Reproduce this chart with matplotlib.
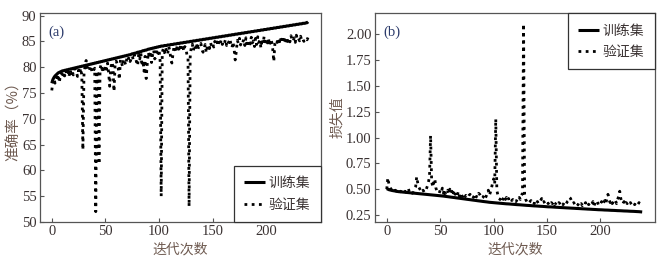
import matplotlib
matplotlib.use("Agg")
import matplotlib.pyplot as plt

plt.rcParams['font.family'] = ['Liberation Serif', 'Noto Sans CJK SC']

train_acc = [
    76.9, 77.6, 78.0, 78.3, 78.5, 78.7, 78.9, 79.0, 79.1, 79.2,
    79.3, 79.3, 79.4, 79.4, 79.5, 79.5, 79.6, 79.6, 79.7, 79.7,
    79.8, 79.8, 79.9, 79.9, 80.0, 80.0, 80.1, 80.1, 80.2, 80.2,
    80.3, 80.3, 80.4, 80.4, 80.5, 80.5, 80.6, 80.6, 80.7, 80.7,
    80.8, 80.8, 80.9, 80.9, 81.0, 81.0, 81.1, 81.1, 81.2, 81.2,
    81.3, 81.3, 81.4, 81.4, 81.5, 81.5, 81.6, 81.6, 81.7, 81.7,
    81.8, 81.8, 81.9, 81.9, 82.0, 82.0, 82.1, 82.1, 82.2, 82.2,
    82.3, 82.3, 82.4, 82.4, 82.5, 82.6, 82.6, 82.7, 82.7, 82.8,
    82.9, 82.9, 83.0, 83.0, 83.1, 83.2, 83.2, 83.3, 83.3, 83.4,
    83.5, 83.5, 83.6, 83.6, 83.7, 83.7, 83.8, 83.8, 83.9, 83.9,
    84.0, 84.0, 84.1, 84.1, 84.1, 84.2, 84.2, 84.2, 84.3, 84.3,
    84.3, 84.4, 84.4, 84.4, 84.5, 84.5, 84.5, 84.6, 84.6, 84.6,
    84.7, 84.7, 84.7, 84.8, 84.8, 84.8, 84.9, 84.9, 84.9, 85.0,
    85.0, 85.0, 85.1, 85.1, 85.1, 85.2, 85.2, 85.2, 85.3, 85.3,
    85.3, 85.4, 85.4, 85.4, 85.5, 85.5, 85.5, 85.6, 85.6, 85.6,
    85.7, 85.7, 85.7, 85.8, 85.8, 85.8, 85.9, 85.9, 85.9, 86.0,
    86.0, 86.0, 86.1, 86.1, 86.1, 86.2, 86.2, 86.2, 86.3, 86.3,
    86.3, 86.4, 86.4, 86.4, 86.5, 86.5, 86.5, 86.6, 86.6, 86.6,
    86.7, 86.7, 86.7, 86.8, 86.8, 86.8, 86.9, 86.9, 86.9, 87.0,
    87.0, 87.0, 87.1, 87.1, 87.1, 87.2, 87.2, 87.2, 87.3, 87.3,
    87.3, 87.4, 87.4, 87.4, 87.5, 87.5, 87.5, 87.6, 87.6, 87.6,
    87.7, 87.7, 87.7, 87.8, 87.8, 87.8, 87.9, 87.9, 87.9, 88.0,
    88.0, 88.0, 88.1, 88.1, 88.1, 88.2, 88.2, 88.2, 88.3, 88.3,
    88.3, 88.4, 88.4, 88.4, 88.5, 88.5, 88.5, 88.6, 88.6, 88.8,
]

val_acc = [
    75.5, 77.2, 77.8, 76.9, 78.2, 77.5, 78.6, 77.0, 78.4, 78.9,
    78.0, 79.1, 78.3, 79.4, 78.6, 79.2, 78.1, 79.5, 78.8, 79.3,
    78.5, 79.6, 80.4, 79.0, 78.2, 79.4, 78.7, 79.8, 78.3, 64.0,
    78.5, 80.2, 81.3, 80.0, 79.5, 79.2, 80.3, 79.6, 78.9, 79.4,
    79.8, 52.0, 79.3, 78.6, 61.2, 79.7, 80.6, 79.5, 80.1, 79.0,
    80.4, 79.6, 80.8, 78.9, 76.3, 79.8, 81.0, 80.2, 75.3, 80.5,
    81.2, 80.6, 79.7, 77.6, 81.5, 80.9, 80.1, 81.6, 81.0, 80.4,
    81.8, 81.3, 82.0, 81.1, 81.7, 82.2, 81.4, 82.4, 81.9, 81.0,
    80.3, 82.5, 81.6, 82.8, 80.2, 81.3, 79.2, 82.1, 77.8, 80.6,
    82.9, 81.8, 83.1, 80.9, 82.4, 83.3, 81.6, 82.0, 83.5, 82.7,
    83.4, 81.2, 55.0, 82.9, 83.6, 82.8, 83.9, 83.2, 82.5, 84.0,
    83.3, 81.5, 80.8, 82.6, 84.1, 83.6, 82.9, 84.3, 83.8, 83.0,
    84.2, 83.5, 84.4, 83.1, 84.0, 83.7, 82.4, 82.0, 53.0, 81.9,
    83.8, 84.5, 83.2, 84.1, 83.6, 84.7, 83.3, 84.0, 83.9, 84.6,
    83.5, 82.9, 83.7, 84.4, 82.8, 83.8, 84.2, 83.6, 84.8, 84.0,
    84.5, 83.9, 85.0, 84.3, 84.9, 84.1, 85.2, 84.6, 85.3, 84.4,
    85.1, 84.7, 85.4, 84.2, 85.0, 84.8, 85.5, 84.5, 83.8, 84.9,
    83.4, 81.4, 83.0, 85.2, 84.6, 85.6, 84.3, 85.1, 84.8, 85.4,
    84.2, 85.7, 83.9, 84.9, 85.3, 84.5, 85.8, 84.7, 85.1, 84.0,
    85.6, 84.4, 85.9, 84.8, 85.2, 83.7, 85.5, 84.6, 86.0, 84.9,
    85.3, 84.7, 85.7, 84.2, 85.4, 84.9, 83.5, 81.1, 84.6, 85.2,
    84.8, 85.6, 84.3, 85.9, 85.1, 84.7, 86.0, 85.3, 84.5, 85.8,
    85.0, 85.5, 84.9, 86.1, 85.4, 85.0, 85.7, 84.8, 86.2, 85.3,
    85.6, 85.1, 86.0, 85.2, 85.5, 85.0, 85.4, 85.6, 85.3, 85.8,
]

train_loss = [
    0.505, 0.500, 0.495, 0.492, 0.489, 0.487, 0.485, 0.483, 0.481, 0.479,
    0.477, 0.476, 0.475, 0.474, 0.473, 0.472, 0.471, 0.470, 0.469, 0.468,
    0.467, 0.466, 0.465, 0.464, 0.463, 0.462, 0.461, 0.460, 0.459, 0.458,
    0.457, 0.456, 0.455, 0.454, 0.453, 0.452, 0.451, 0.450, 0.449, 0.448,
    0.447, 0.446, 0.445, 0.444, 0.443, 0.442, 0.441, 0.440, 0.439, 0.438,
    0.437, 0.436, 0.434, 0.433, 0.431, 0.430, 0.429, 0.427, 0.426, 0.424,
    0.423, 0.422, 0.420, 0.419, 0.417, 0.416, 0.415, 0.413, 0.412, 0.410,
    0.409, 0.408, 0.406, 0.405, 0.403, 0.402, 0.401, 0.399, 0.398, 0.396,
    0.395, 0.394, 0.392, 0.391, 0.389, 0.388, 0.387, 0.385, 0.384, 0.382,
    0.381, 0.380, 0.378, 0.377, 0.376, 0.374, 0.373, 0.372, 0.370, 0.369,
    0.368, 0.367, 0.366, 0.366, 0.365, 0.364, 0.363, 0.362, 0.362, 0.361,
    0.360, 0.359, 0.358, 0.358, 0.357, 0.356, 0.355, 0.354, 0.354, 0.353,
    0.352, 0.351, 0.350, 0.350, 0.349, 0.348, 0.347, 0.346, 0.346, 0.345,
    0.344, 0.343, 0.343, 0.342, 0.341, 0.341, 0.340, 0.339, 0.338, 0.338,
    0.337, 0.336, 0.336, 0.335, 0.334, 0.334, 0.333, 0.332, 0.331, 0.331,
    0.330, 0.329, 0.329, 0.328, 0.328, 0.327, 0.326, 0.326, 0.325, 0.325,
    0.324, 0.323, 0.323, 0.322, 0.322, 0.321, 0.320, 0.320, 0.319, 0.319,
    0.318, 0.317, 0.317, 0.316, 0.316, 0.315, 0.314, 0.314, 0.313, 0.313,
    0.312, 0.311, 0.311, 0.310, 0.310, 0.309, 0.308, 0.308, 0.307, 0.307,
    0.306, 0.305, 0.305, 0.304, 0.304, 0.303, 0.302, 0.302, 0.301, 0.301,
    0.300, 0.300, 0.299, 0.299, 0.298, 0.298, 0.297, 0.297, 0.296, 0.296,
    0.295, 0.295, 0.294, 0.294, 0.293, 0.293, 0.292, 0.292, 0.291, 0.291,
    0.290, 0.290, 0.289, 0.289, 0.288, 0.288, 0.287, 0.287, 0.286, 0.286,
    0.285, 0.285, 0.284, 0.284, 0.283, 0.283, 0.282, 0.281, 0.280, 0.279,
]

val_loss = [
    0.50, 0.61, 0.55, 0.52, 0.50, 0.49, 0.50, 0.48, 0.49, 0.48,
    0.49, 0.48, 0.47, 0.48, 0.47, 0.48, 0.47, 0.48, 0.47, 0.49,
    0.51, 0.48, 0.47, 0.48, 0.46, 0.47, 0.49, 0.52, 0.62, 0.56,
    0.52, 0.50, 0.48, 0.47, 0.49, 0.47, 0.48, 0.50, 0.53, 0.57,
    0.62, 1.02, 0.58, 0.52, 0.56, 0.60, 0.51, 0.48, 0.47, 0.46,
    0.49, 0.47, 0.51, 0.46, 0.50, 0.45, 0.47, 0.49, 0.45, 0.50,
    0.46, 0.48, 0.44, 0.49, 0.45, 0.47, 0.44, 0.48, 0.43, 0.46,
    0.44, 0.43, 0.45, 0.42, 0.44, 0.43, 0.42, 0.44, 0.45, 0.42,
    0.43, 0.42, 0.44, 0.41, 0.43, 0.42, 0.46, 0.45, 0.43, 0.41,
    0.42, 0.44, 0.41, 0.43, 0.46, 0.49, 0.44, 0.47, 0.51, 0.56,
    0.60, 0.55, 1.18, 0.49, 0.44, 0.41, 0.40, 0.42, 0.39, 0.41,
    0.43, 0.40, 0.42, 0.39, 0.41, 0.38, 0.40, 0.39, 0.40, 0.38,
    0.39, 0.38, 0.40, 0.39, 0.42, 0.40, 0.44, 0.46, 2.10, 0.45,
    0.40, 0.38, 0.39, 0.37, 0.38, 0.39, 0.37, 0.38, 0.36, 0.39,
    0.37, 0.38, 0.36, 0.37, 0.39, 0.41, 0.37, 0.38, 0.36, 0.37,
    0.38, 0.36, 0.37, 0.35, 0.37, 0.36, 0.38, 0.35, 0.36, 0.37,
    0.35, 0.37, 0.36, 0.34, 0.36, 0.35, 0.37, 0.35, 0.36, 0.38,
    0.39, 0.42, 0.41, 0.38, 0.36, 0.37, 0.35, 0.36, 0.34, 0.35,
    0.37, 0.35, 0.36, 0.34, 0.36, 0.35, 0.37, 0.34, 0.36, 0.35,
    0.37, 0.35, 0.36, 0.38, 0.34, 0.37, 0.36, 0.38, 0.35, 0.37,
    0.36, 0.38, 0.35, 0.37, 0.39, 0.36, 0.41, 0.45, 0.40, 0.37,
    0.39, 0.36, 0.38, 0.37, 0.39, 0.36, 0.40, 0.43, 0.48, 0.41,
    0.37, 0.36, 0.38, 0.35, 0.37, 0.36, 0.38, 0.36, 0.37, 0.35,
    0.37, 0.36, 0.35, 0.37, 0.36, 0.35, 0.37, 0.36, 0.35, 0.36,
]

epochs = list(range(len(train_acc)))
legend_labels = ["训练集", "验证集"]
xlabel = "迭代次数"
ylabels = ["准确率（%）", "损失值"]
panel_labels = ["(a)", "(b)"]
acc_ticks = [50, 55, 60, 65, 70, 75, 80, 85, 90]
loss_ticks = [0.25, 0.50, 0.75, 1.00, 1.25, 1.50, 1.75, 2.00]
x_ticks = [0, 50, 100, 150, 200]

text_color = "#3a3232"
label_color = "#6e5a50"
spine_color = "#555555"
cjk = ['Noto Sans CJK SC', 'Liberation Serif']

fig = plt.figure(figsize=(6.71, 2.61), dpi=100)
axA = fig.add_axes([40/671, 39/261, 281/671, 209/261])
axB = fig.add_axes([375/671, 39/261, 280/671, 209/261])

def style(ax):
    for s in ax.spines.values():
        s.set_color(spine_color)
        s.set_linewidth(0.9)
    ax.tick_params(direction='in', length=3, width=0.8, colors=spine_color,
                   labelcolor=text_color, labelsize=10.5, pad=2.5,
                   top=False, right=False)
    ax.set_xticks(x_ticks)
    ax.set_xlim(-11, 251)
    ax.set_xlabel(xlabel, family=cjk, fontsize=10, color=label_color, labelpad=3)

def make_legend(ax, loc):
    leg = ax.legend(loc=loc, borderaxespad=0, frameon=True, fancybox=False,
                    handlelength=1.5, handletextpad=0.3, borderpad=0.75,
                    labelspacing=0.55, prop={'family': cjk, 'size': 10})
    leg.get_frame().set_edgecolor('#333333')
    leg.get_frame().set_linewidth(0.9)
    leg.get_frame().set_alpha(1)
    for t in leg.get_texts():
        t.set_color(text_color)
    return leg

dot_style = (0, (1, 1.6))

# Panel (a)
axA.plot(epochs, train_acc, color='black', lw=2.2, solid_capstyle='butt', label=legend_labels[0])
axA.plot(epochs, val_acc, color='black', lw=2.0, linestyle=dot_style, label=legend_labels[1])
style(axA)
axA.set_ylim(50, 90.5)
axA.set_yticks(acc_ticks)
axA.set_ylabel(ylabels[0], family=cjk, fontsize=10.5, color=label_color, labelpad=1)
axA.text(0.03, 0.94, panel_labels[0], transform=axA.transAxes, fontsize=10.5,
         color='#2c3b6b', va='top', ha='left')
make_legend(axA, 'lower right')

# Panel (b)
axB.plot(epochs, train_loss, color='black', lw=2.2, solid_capstyle='butt', label=legend_labels[0])
axB.plot(epochs, val_loss, color='black', lw=2.0, linestyle=dot_style, label=legend_labels[1])
style(axB)
axB.set_ylim(0.182, 2.206)
axB.set_yticks(loss_ticks)
axB.set_yticklabels([f"{v:.2f}" for v in loss_ticks])
axB.set_ylabel(ylabels[1], family=cjk, fontsize=10, color=label_color, labelpad=1)
axB.text(0.03, 0.94, panel_labels[1], transform=axB.transAxes, fontsize=10.5,
         color='#2c3b6b', va='top', ha='left')
make_legend(axB, 'upper right')

fig.savefig("out.png", dpi=100)
